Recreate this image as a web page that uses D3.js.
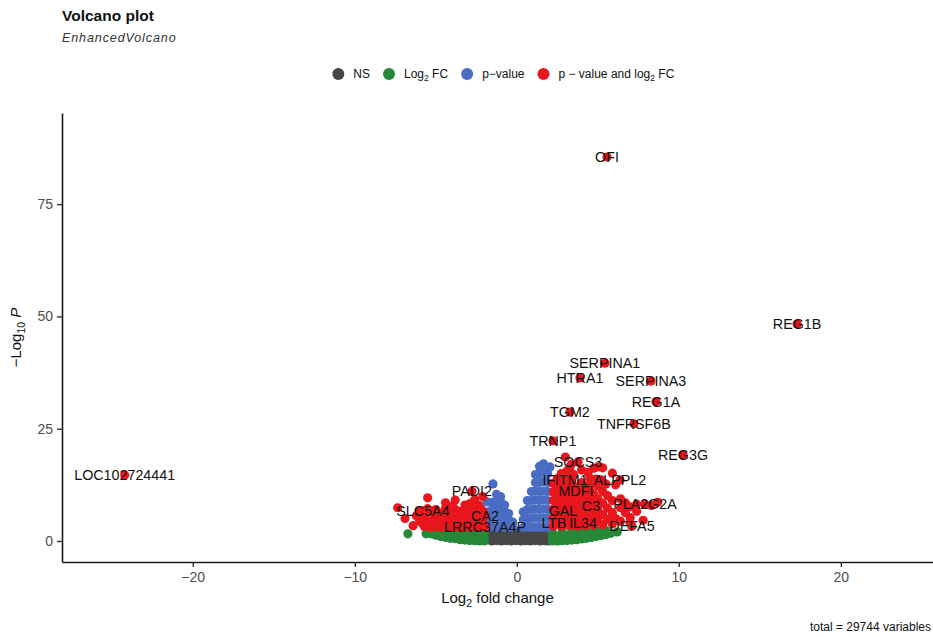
<!DOCTYPE html>
<html>
<head>
<meta charset="utf-8">
<script src="https://cdn.jsdelivr.net/npm/d3@7"></script>
<style>
  body { margin: 0; background: #fff; }
  svg { display: block; }
  text { font-family: "Liberation Sans", Arial, Helvetica, sans-serif; }
</style>
</head>
<body>
<svg id="chart" width="933" height="637"></svg>
<script>
// ---- data: log2 fold change / -log10 p per gene, grouped by significance class ----
const xTicks = [-20, -10, 0, 10, 20];
const yTicks = [0, 25, 50, 75];
const categories = ["NS", "Log2 FC", "p-value", "p - value and log2 FC"];
const totalVariables = 29744;

// not significant
const nsPoints = [
  [-1.55,0.0],[-1.25,0.1],[-0.95,0.0],[-0.65,0.05],[-0.35,0.0],[-0.05,0.1],[0.25,0.0],[0.55,0.05],[0.85,0.0],[1.15,0.1],[1.45,0.0],[1.75,0.05],[1.95,0.0],
  [-1.55,1.0],[-1.25,0.9],[-0.95,1.05],[-0.65,0.95],[-0.35,1.0],[-0.05,0.9],[0.25,1.05],[0.55,0.95],[0.85,1.0],[1.15,0.9],[1.45,1.05],[1.75,0.95],[1.95,1.0],
  [-1.55,2.0],[-1.25,2.1],[-0.95,1.95],[-0.65,2.05],[-0.35,2.0],[-0.05,2.1],[0.25,1.95],[0.55,2.05],[0.85,2.0],[1.15,2.1],[1.45,1.95],[1.75,2.05],[1.95,2.0]
];

// fold change only
const fcPoints = [
  [-6.72,1.6],[-5.6,1.6],
  [-5.3,1.6],[-5.3,2.3],[-5.0,1.3],[-5.0,2.3],[-4.7,1.0],[-4.7,2.2],
  [-4.4,0.8],[-4.4,1.9],[-4.1,0.6],[-4.1,1.7],[-3.8,0.5],[-3.8,1.5],[-3.8,2.4],
  [-3.5,0.3],[-3.5,1.4],[-3.2,0.2],[-3.2,1.2],[-3.2,2.3],[-2.9,0.1],[-2.9,1.1],
  [-2.6,0.05],[-2.6,1.0],[-2.6,2.1],[-2.3,0.0],[-2.3,0.9],[-2.0,0.0],[-2.0,0.8],[-2.0,1.9],
  [2.2,0.0],[2.2,0.9],[2.2,1.9],[2.5,0.0],[2.5,1.0],[2.8,0.05],[2.8,1.1],[2.8,2.1],
  [3.1,0.1],[3.1,1.2],[3.4,0.2],[3.4,1.3],[3.4,2.3],[3.7,0.3],[3.7,1.4],
  [4.0,0.45],[4.0,1.5],[4.0,2.4],[4.3,0.6],[4.3,1.7],[4.6,0.8],[4.6,1.9],
  [4.9,1.0],[4.9,2.1],[5.2,1.2],[5.2,2.3],[5.5,1.4],[5.5,2.3],[5.8,1.7],[6.2,2.0]
];

// p-value only
const pPoints = [
  [-1.47,12.7],[-1.84,8.7],
  [-1.75,3.0],[-1.75,4.8],[-1.75,6.5],
  [-1.5,3.2],[-1.5,5.0],[-1.5,7.0],[-1.5,8.6],
  [-1.25,3.0],[-1.25,4.9],[-1.25,6.8],[-1.25,8.7],[-1.25,10.4],
  [-1.0,3.1],[-1.0,5.0],[-1.0,6.9],[-1.0,8.8],[-1.0,9.9],
  [-0.75,3.0],[-0.75,4.8],[-0.75,6.6],[-0.75,8.0],
  [-0.5,3.1],[-0.5,4.7],[-0.5,6.1],
  [-0.25,3.0],[-0.25,4.2],
  [0.4,3.0],[0.4,4.8],[0.4,6.5],
  [0.65,3.1],[0.65,5.0],[0.65,7.0],[0.65,9.0],
  [0.9,3.0],[0.9,5.0],[0.9,7.0],[0.9,9.0],[0.9,11.0],
  [1.15,3.1],[1.15,5.1],[1.15,7.1],[1.15,9.1],[1.15,11.1],[1.15,13.0],[1.15,14.8],
  [1.4,3.0],[1.4,5.0],[1.4,7.0],[1.4,9.0],[1.4,11.0],[1.4,13.0],[1.4,15.0],[1.4,16.6],
  [1.65,3.1],[1.65,5.1],[1.65,7.1],[1.65,9.1],[1.65,11.1],[1.65,13.2],[1.65,15.3],[1.65,17.2],
  [1.9,3.0],[1.9,5.0],[1.9,7.0],[1.9,9.0],[1.9,11.0],[1.9,13.0],[1.9,15.0],[2.05,16.5]
];

// p-value and fold change (unlabelled)
const bothPoints = [
  [-7.35,7.4],[-6.9,5.0],[-6.4,3.4],[-6.0,4.5],[-6.0,6.6],[-5.7,3.2],[-5.7,5.5],
  [-5.5,9.6],[-5.5,7.2],[-5.3,3.0],[-5.3,4.4],[-5.0,3.2],[-5.0,5.3],[-5.0,7.0],
  [-4.7,3.0],[-4.7,4.6],[-4.7,6.2],[-4.4,3.3],[-4.4,5.2],[-4.4,7.3],[-4.4,8.5],
  [-4.1,3.0],[-4.1,4.8],[-4.1,6.6],[-3.8,3.2],[-3.8,5.1],[-3.8,7.0],[-3.8,9.1],
  [-3.5,3.0],[-3.5,4.8],[-3.5,6.6],[-3.2,3.2],[-3.2,5.0],[-3.2,8.0],
  [-2.9,3.0],[-2.9,4.7],[-2.9,6.5],[-2.9,8.3],[-2.6,3.2],[-2.6,5.0],[-2.6,6.9],[-2.6,9.2],
  [-2.35,3.0],[-2.35,4.7],[-2.35,6.4],[-2.35,8.0],[-2.1,3.2],[-2.1,4.9],[-2.1,6.7],[-2.1,9.9],
  [-6.2,5.6],[-5.85,4.0],[-5.5,3.6],[-5.2,6.3],[-4.85,3.9],[-4.55,5.5],[-4.25,4.0],[-4.25,6.0],
  [-3.95,5.6],[-3.95,7.8],[-3.65,4.0],[-3.65,5.8],[-3.35,4.1],[-3.35,6.6],[-3.05,5.6],[-3.05,7.3],
  [-2.75,4.0],[-2.75,5.8],[-2.45,5.6],[-2.25,7.3],
  [2.25,3.3],[2.25,5.2],[2.25,7.1],[2.25,9.0],[2.25,10.9],[2.25,12.8],
  [2.5,4.2],[2.5,6.1],[2.5,8.0],[2.5,9.9],[2.5,11.8],[2.5,13.9],
  [2.75,3.3],[2.75,5.2],[2.75,7.2],[2.75,9.1],[2.75,11.0],[2.75,12.9],[2.75,15.0],
  [3.0,4.1],[3.0,6.0],[3.0,8.1],[3.0,10.0],[3.0,12.0],[3.0,14.2],[3.0,18.7],
  [3.25,3.4],[3.25,5.3],[3.25,7.3],[3.25,9.3],[3.25,11.4],[3.25,13.3],[3.25,16.0],
  [3.5,4.2],[3.5,6.2],[3.5,8.2],[3.5,10.2],[3.5,12.2],[3.5,14.8],
  [3.75,3.3],[3.75,5.3],[3.75,7.2],[3.75,9.3],[3.75,11.8],
  [4.0,4.3],[4.0,6.3],[4.0,8.4],[4.0,10.5],[4.0,13.0],[4.0,15.8],
  [4.25,3.4],[4.25,5.4],[4.25,7.6],[4.25,9.7],[4.25,12.2],
  [4.5,4.4],[4.5,6.6],[4.5,8.8],[4.5,11.2],[4.5,14.0],
  [4.75,3.5],[4.75,5.7],[4.75,8.0],[4.75,10.4],[4.75,16.2],
  [5.0,4.6],[5.0,7.0],[5.0,9.4],[5.0,12.2],[5.0,16.5],
  [5.3,3.6],[5.3,5.9],[5.3,8.4],[5.3,11.0],[5.3,16.3],
  [5.6,4.8],[5.6,7.3],[5.6,10.1],[5.9,3.8],[5.9,6.3],[5.9,9.0],[5.9,15.1],
  [6.1,12.5],[6.1,5.0],[6.4,7.4],[6.4,4.4],[6.4,9.4],[6.7,6.3],[6.7,8.5],
  [7.0,7.6],[7.0,4.0],[7.0,5.2],[7.4,6.6],[7.4,8.2],[7.8,4.6],[8.3,7.9],[8.7,8.6],
  [2.4,8.9],[2.6,10.9],[2.9,13.1],[3.1,15.6],[3.4,13.2],[3.6,11.2],[3.9,9.0],[4.1,11.9],
  [4.4,10.2],[4.6,12.8],[4.9,13.8],[5.2,13.6],[5.5,12.7],[3.35,17.0],[4.4,15.3]
];

// labelled genes
const geneNames = ["OFI","REG1B","SERPINA1","HTRA1","SERPINA3","REG1A","TGM2","TNFRSF6B","TRNP1","REG3G",
  "SOCS3","IFITM1","ALPPL2","MDFI","PADI2","SLC5A4","CA2","GAL","C3","PLA2G2A","LRRC37A4P","LTB","IL34","DEFA5","LOC102724441"];
const geneLog2FC = [5.57,17.3,5.44,3.9,8.28,8.59,3.28,7.23,2.23,10.26,
  3.78,2.98,6.37,3.65,-2.77,-5.79,-1.96,2.85,4.58,7.91,-1.96,2.3,4.09,7.11,-24.2];
const geneNegLog10P = [85.5,48.3,39.6,36.3,35.6,31.0,28.7,26.1,22.3,19.2,
  17.6,13.6,13.6,11.1,11.1,6.7,5.6,6.7,7.8,8.2,3.1,4.0,4.0,3.3,14.7];

// ---- styling ----
const colours = { ns: "#474747", fc: "#26893a", p: "#4a6cc3", both: "#e8161d" };
const pointRadius = 4.6;

const svg = d3.select("#chart");
const panel = { left: 62, right: 933, top: 113, bottom: 562 };

const x = d3.scaleLinear().domain([-28.07, 25.69]).range([panel.left, panel.right]);
const y = d3.scaleLinear().domain([-4.68, 95.3]).range([panel.bottom, panel.top]);

// title + subtitle
svg.append("text").attr("x", 62).attr("y", 21)
  .attr("font-size", 15.5).attr("font-weight", "bold").attr("fill", "#111")
  .text("Volcano plot");
svg.append("text").attr("x", 62).attr("y", 42)
  .attr("font-size", 12.5).attr("font-style", "italic").attr("letter-spacing", 0.9)
  .attr("fill", "#333").text("EnhancedVolcano");

// legend
const legend = svg.append("g");
const legendColours = [colours.ns, colours.fc, colours.p, colours.both];
let cursor = 0;
categories.forEach((cat, i) => {
  legend.append("circle").attr("cx", cursor).attr("cy", 0).attr("r", 6).attr("fill", legendColours[i]);
  const t = legend.append("text").attr("x", cursor + 15).attr("y", 4.3)
    .attr("font-size", 12).attr("fill", "#111");
  if (cat === "Log2 FC") {
    t.append("tspan").text("Log");
    t.append("tspan").attr("font-size", 8.5).attr("dy", 3).text("2");
    t.append("tspan").attr("dy", -3).text(" FC");
  } else if (cat === "p - value and log2 FC") {
    t.append("tspan").text("p \u2212 value and log");
    t.append("tspan").attr("font-size", 8.5).attr("dy", 3).text("2");
    t.append("tspan").attr("dy", -3).text(" FC");
  } else if (cat === "p-value") {
    t.text("p\u2212value");
  } else {
    t.text(cat);
  }
  cursor += 15 + t.node().getComputedTextLength() + 19;
});
const lb = legend.node().getBBox();
legend.attr("transform", `translate(${503.5 - (lb.x + lb.width / 2)},74)`);

// points
const pts = svg.append("g");
function drawPoints(data, colour) {
  pts.append("g").selectAll("circle").data(data).join("circle")
    .attr("cx", d => x(d[0])).attr("cy", d => y(d[1]))
    .attr("r", pointRadius).attr("fill", colour);
}
drawPoints(nsPoints, colours.ns);
drawPoints(fcPoints, colours.fc);
drawPoints(pPoints, colours.p);
drawPoints(bothPoints, colours.both);
const labelled = geneNames.map((g, i) => ({ gene: g, fc: geneLog2FC[i], p: geneNegLog10P[i] }));
drawPoints(labelled.map(d => [d.fc, d.p]), colours.both);

// gene labels
svg.append("g").selectAll("text").data(labelled).join("text")
  .attr("x", d => x(d.fc)).attr("y", d => y(d.p))
  .attr("text-anchor", "middle").attr("dominant-baseline", "central")
  .attr("font-size", 14.3).attr("fill", "#111")
  .text(d => d.gene);

// axes
const yAxis = svg.append("g").attr("transform", `translate(${panel.left},0)`)
  .call(d3.axisLeft(y).tickValues(yTicks).tickSize(5).tickSizeOuter(0).tickPadding(4));
const xAxis = svg.append("g").attr("transform", `translate(0,${panel.bottom})`)
  .call(d3.axisBottom(x).tickValues(xTicks).tickSize(5).tickSizeOuter(0).tickPadding(5));
[yAxis, xAxis].forEach(a => {
  a.select(".domain").attr("stroke", "#1a1a1a").attr("stroke-width", 1.6);
  a.selectAll(".tick line").attr("stroke", "#333").attr("stroke-width", 1.4);
  a.selectAll(".tick text").attr("fill", "#4d4d4d").attr("font-size", 14)
    .attr("font-family", "'Liberation Sans', Arial, sans-serif");
});

// axis titles
const xt = svg.append("text").attr("x", (panel.left + panel.right) / 2).attr("y", 603)
  .attr("text-anchor", "middle").attr("font-size", 15).attr("fill", "#111");
xt.append("tspan").text("Log");
xt.append("tspan").attr("font-size", 10.5).attr("dy", 4).text("2");
xt.append("tspan").attr("dy", -4).text(" fold change");

const yt = svg.append("text")
  .attr("transform", `translate(21,${(panel.top + panel.bottom) / 2}) rotate(-90)`)
  .attr("text-anchor", "middle").attr("font-size", 15).attr("fill", "#111");
yt.append("tspan").text("\u2212Log");
yt.append("tspan").attr("font-size", 10.5).attr("dy", 4).text("10");
yt.append("tspan").attr("dy", -4).attr("font-style", "italic").text(" P");

// caption
svg.append("text").attr("x", 931).attr("y", 631).attr("text-anchor", "end")
  .attr("font-size", 12).attr("fill", "#111")
  .text(`total = ${totalVariables} variables`);
</script>
</body>
</html>
